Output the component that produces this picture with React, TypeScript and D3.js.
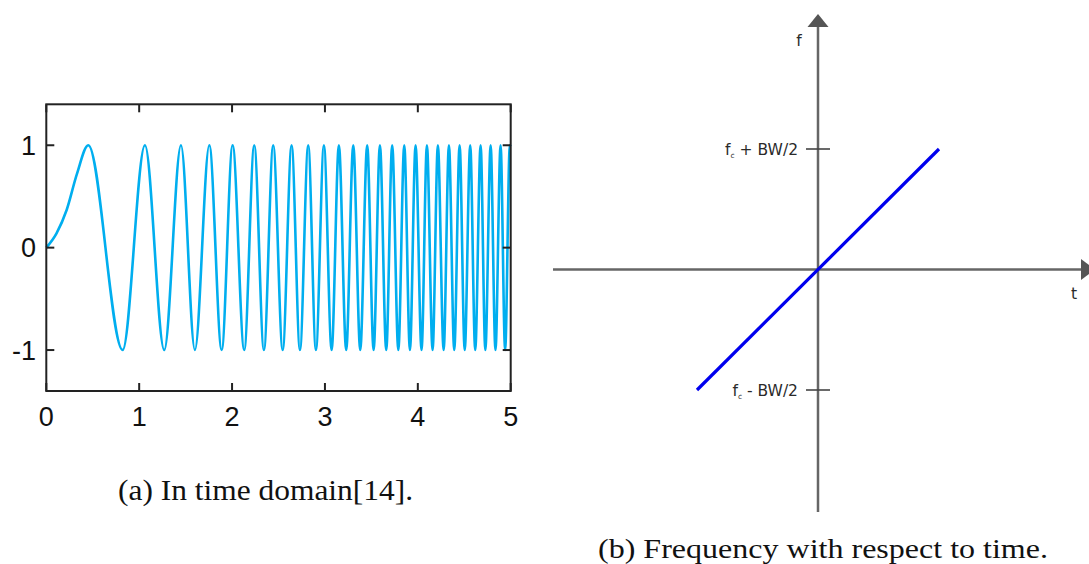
import React from "react";
import * as d3 from "d3";

// Chirp signal, read as the times of its extrema on a 0–5 s axis
const chirpPeakTimes = [
  0.452, 1.062, 1.45, 1.755, 2.006, 2.239, 2.443, 2.641, 2.82, 2.989, 3.15, 3.305, 3.455,
  3.592, 3.724, 3.854, 3.976, 4.098, 4.216, 4.335, 4.45, 4.564, 4.676, 4.784, 4.891, 4.991,
];
const chirpTroughTimes = [
  0.822, 1.27, 1.6, 1.888, 2.131, 2.343, 2.545, 2.731, 2.903, 3.072, 3.229, 3.38, 3.524,
  3.66, 3.79, 3.915, 4.04, 4.159, 4.278, 4.392, 4.505, 4.618, 4.727, 4.836, 4.94,
];
// Opening rise, before the first crest
const chirpRiseTimes = [0, 0.11, 0.22, 0.33];
const chirpRiseValues = [0, 0.14, 0.37, 0.72];
const chirpEnd = { t: 5, v: 0.99 };

const timeTicks = [0, 1, 2, 3, 4, 5];
const ampTicks = [-1, 0, 1];

// Linear frequency sweep: from fc - BW/2 to fc + BW/2
const sweepTimes = [-1, 1];
const sweepFreqs = [-1, 1];
const freqTicks = [
  { value: 1, sign: "+" },
  { value: -1, sign: "-" },
];

const captionA = "(a) In time domain[14].";
const captionB = "(b) Frequency with respect to time.";

export default function App() {
  // ---- left panel: chirp in time domain
  const x = d3.scaleLinear().domain([0, 5]).range([46.3, 510.7]);
  const y = d3.scaleLinear().domain([-1.4, 1.4]).range([391, 104.3]);

  const extrema = [
    ...chirpPeakTimes.map((t) => ({ t, v: 1 })),
    ...chirpTroughTimes.map((t) => ({ t, v: -1 })),
  ].sort((a, b) => a.t - b.t);
  const rise = chirpRiseTimes.map((t, i) => ({ t, v: chirpRiseValues[i] }));
  const pts = [...rise, ...extrema, chirpEnd];

  const line = d3
    .line<{ t: number; v: number }>()
    .x((d) => x(d.t))
    .y((d) => y(d.v))
    .curve(d3.curveMonotoneX);

  const [x0, x1] = x.range();
  const [yb, yt] = y.range();
  const tickLen = 8;
  const frame = "#222";

  // ---- right panel: frequency vs time
  const xr = d3.scaleLinear().domain([-1, 1]).range([697, 939]);
  const yr = d3.scaleLinear().domain([-1, 1]).range([390, 149]);
  const ox = xr(0);
  const oy = yr(0);
  const axisGray = "#666";
  const sweep = d3
    .line<number>()
    .x((_, i) => xr(sweepTimes[i]))
    .y((d) => yr(d));

  return (
    <svg
      width={1089}
      height={564}
      style={{ position: "absolute", left: 0, top: 0, background: "#fff" }}
    >
      {/* chirp curve */}
      <path d={line(pts) ?? ""} fill="none" stroke="#00AEEF" strokeWidth={2.6} strokeLinejoin="round" />

      {/* frame */}
      <rect x={x0} y={yt} width={x1 - x0} height={yb - yt} fill="none" stroke={frame} strokeWidth={2} />

      {/* time ticks, inward on top and bottom */}
      {timeTicks.map((t) => (
        <g key={`xt${t}`}>
          <line x1={x(t)} x2={x(t)} y1={yb} y2={yb - tickLen} stroke={frame} strokeWidth={2} />
          <line x1={x(t)} x2={x(t)} y1={yt} y2={yt + tickLen} stroke={frame} strokeWidth={2} />
          <text
            x={x(t)}
            y={425.5}
            textAnchor="middle"
            fontFamily="'Liberation Sans', Arial, sans-serif"
            fontSize={27}
            fill="#111"
          >
            {t}
          </text>
        </g>
      ))}

      {/* amplitude ticks, inward on left and right */}
      {ampTicks.map((v) => (
        <g key={`yt${v}`}>
          <line x1={x0} x2={x0 + tickLen} y1={y(v)} y2={y(v)} stroke={frame} strokeWidth={2} />
          <line x1={x1} x2={x1 - tickLen} y1={y(v)} y2={y(v)} stroke={frame} strokeWidth={2} />
          <text
            x={36}
            y={y(v)}
            dy="0.36em"
            textAnchor="end"
            fontFamily="'Liberation Sans', Arial, sans-serif"
            fontSize={27}
            fill="#111"
          >
            {v}
          </text>
        </g>
      ))}

      <text
        x={265.5}
        y={500}
        textAnchor="middle"
        fontFamily="'Liberation Serif', 'Times New Roman', serif"
        fontSize={29}
        textLength={295}
        lengthAdjust="spacingAndGlyphs"
        fill="#111"
      >
        {captionA}
      </text>

      {/* right panel axes */}
      <line x1={553} x2={1082} y1={oy} y2={oy} stroke={axisGray} strokeWidth={2.5} />
      <path d={`M1081,${oy - 10.5} L1095,${oy} L1081,${oy + 10.5} Z`} fill="#555" />
      <line x1={ox} x2={ox} y1={26} y2={512} stroke={axisGray} strokeWidth={2.5} />
      <path d={`M${ox - 10.5},27 L${ox},14 L${ox + 10.5},27 Z`} fill="#555" />

      {freqTicks.map((d) => (
        <g key={`ft${d.value}`}>
          <line x1={ox - 12} x2={ox + 12} y1={yr(d.value)} y2={yr(d.value)} stroke="#444" strokeWidth={1.6} />
          <text
            x={798}
            y={yr(d.value)}
            dy="0.36em"
            textAnchor="end"
            fontFamily="'DejaVu Sans', sans-serif"
            fontSize={15.5}
            fill="#2a2a2a"
          >
            <tspan>f</tspan>
            <tspan fontSize={7.5} dy={3}>c</tspan>
            <tspan dy={-3}>{` ${d.sign} BW/2`}</tspan>
          </text>
        </g>
      ))}

      <text x={799} y={46} textAnchor="middle" fontFamily="'DejaVu Sans', sans-serif" fontSize={15.5} fill="#2a2a2a">
        f
      </text>
      <text x={1074} y={299} textAnchor="middle" fontFamily="'DejaVu Sans', sans-serif" fontSize={15.5} fill="#2a2a2a">
        t
      </text>

      {/* frequency sweep */}
      <path d={sweep(sweepFreqs) ?? ""} fill="none" stroke="#0000EE" strokeWidth={3.2} />

      <text
        x={823}
        y={558}
        textAnchor="middle"
        fontFamily="'Liberation Serif', 'Times New Roman', serif"
        fontSize={28}
        textLength={450}
        lengthAdjust="spacingAndGlyphs"
        fill="#111"
      >
        {captionB}
      </text>
    </svg>
  );
}
